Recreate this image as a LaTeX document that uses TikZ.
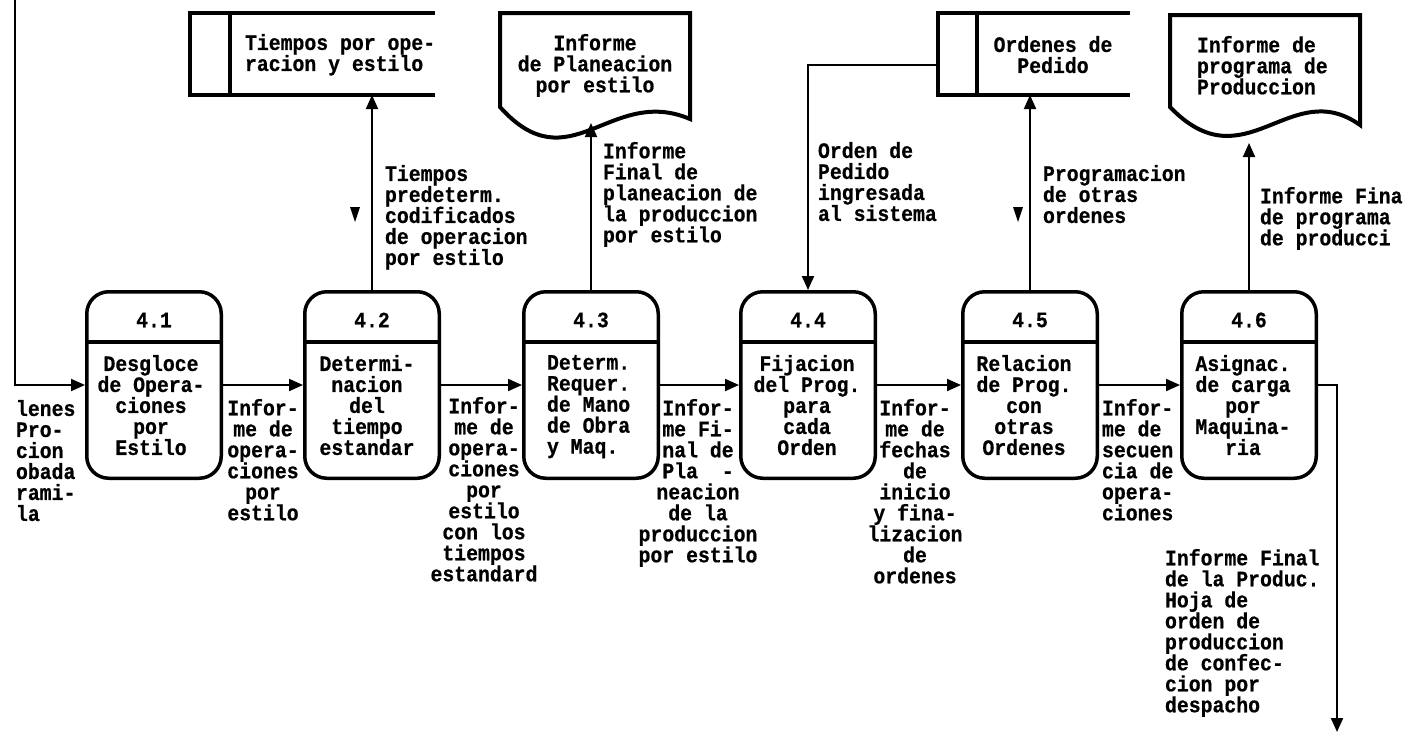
\documentclass[tikz,border=0pt]{standalone}
\usepackage{fontspec}
\newfontfamily\dfd{Liberation Mono Bold}[FakeStretch=0.9,FakeBold=0.6]
\usetikzlibrary{arrows.meta,calc}
\begin{document}
\begin{tikzpicture}[x=1pt,y=-1pt,
  txt/.style={font=\dfd\fontsize{22}{21}\selectfont, inner sep=0pt, outer sep=0pt},
  ctxt/.style={txt, anchor=north, align=center},
  ltxt/.style={txt, anchor=north west, align=left},
  proc/.style={draw, line width=3.5pt, rounded corners=22pt, minimum width=134.5pt, minimum height=186.5pt, inner sep=0pt},
  holder/.style={inner sep=0pt, outer sep=0pt},
  outline/.style={line width=4pt, line join=miter},
  flow/.style={line width=2pt, -{Triangle[length=14pt,width=12pt]}},
  marker/.style={fill=black}
]
\useasboundingbox (0,0) rectangle (1407,734);

% processes
\node[proc] (p1) at (154,385) {};
\node[proc] (p2) at (372,385) {};
\node[proc] (p3) at (591,385) {};
\node[proc] (p4) at (808,385) {};
\node[proc] (p5) at (1030,385) {};
\node[proc] (p6) at (1249,385) {};
\foreach \p in {p1,p2,p3,p4,p5,p6}{
  \draw[line width=3.5pt, shorten <=1.75pt, shorten >=1.75pt] (\p.west |- 0,342) -- (\p.east |- 0,342);
}
\node[txt] (n1) at (154,320) {4.1};
\node[txt] (n2) at (372,320) {4.2};
\node[txt] (n3) at (591,320) {4.3};
\node[txt] (n4) at (808,320) {4.4};
\node[txt] (n5) at (1030,320) {4.5};
\node[txt] (n6) at (1249,320) {4.6};

\node[ctxt] (t1) at (151,355) {Desgloce\\de Opera-\\ciones\\por\\Estilo};
\node[ctxt] (t2) at (367,355) {Determi-\\nacion\\del\\tiempo\\estandar};
\node[ltxt] (t3) at (547,355) {Determ.\\Requer.\\de Mano\\de Obra\\y Maq.};
\node[ctxt] (t4) at (807,355) {Fijacion\\del Prog.\\para\\cada\\Orden};
\node[ctxt] (t5) at (1024,355) {Relacion\\de Prog.\\con\\otras\\Ordenes};
\node[ctxt] (t6) at (1243,355) {Asignac.\\de carga\\por\\Maquina-\\ria};

% stores
\node[holder, minimum width=245pt, minimum height=82pt] (s1) at (312.5,54) {};
\draw[outline] (s1.north east) -- (s1.north west) -- (s1.south west) -- (s1.south east);
\draw[outline] ([xshift=40pt]s1.north west) -- ([xshift=40pt]s1.south west);
\node[ltxt] (st1) at (245,34) {Tiempos por ope-\\racion y estilo};

\node[holder, minimum width=192pt, minimum height=82pt] (s2) at (1034,54) {};
\draw[outline] (s2.north east) -- (s2.north west) -- (s2.south west) -- (s2.south east);
\draw[outline] ([xshift=39pt]s2.north west) -- ([xshift=39pt]s2.south west);
\node[ctxt] (st2) at (1053,36) {Ordenes de\\Pedido};

% documents
\node[holder, minimum width=190pt, minimum height=110pt] (d1) at (595,68) {};
\draw[outline] (500,13) -- (690,13) -- (690,119) .. controls (610,85) and (570,185) .. (500,107) -- cycle;
\node[ctxt] (dt1) at (595,34) {Informe\\de Planeacion\\por estilo};

\node[holder, minimum width=190pt, minimum height=128pt] (d2) at (1265,79) {};
\draw[outline] (1170,15) -- (1360,15) -- (1360,125) .. controls (1290,75) and (1245,185) .. (1170,107) -- cycle;
\node[ltxt] (dt2) at (1197,36) {Informe de\\programa de\\Produccion};

% connectors
\coordinate (in) at (15,0);
\draw[flow] (in) |- (p1.west);
\draw[flow] (p1.east) -- (p2.west);
\draw[flow] (p2.east) -- (p3.west);
\draw[flow] (p3.east) -- (p4.west);
\draw[flow] (p4.east) -- (p5.west);
\draw[flow] (p5.east) -- (p6.west);
\coordinate (out) at (1337,732);
\draw[flow] (p6.east) -| (out);
\draw[flow] (p2.north) -- (p2.north |- s1.south);
\draw[flow] (p3.north) -- (p3.north |- d1.south);
\draw[flow] ([yshift=-11pt]s2.west) -| (p4.north);
\draw[flow] (p5.north) -- (p5.north |- s2.south);
\draw[flow] (p6.north) -- (p6.north |- d2.south);

% markers
\fill[marker] (350,207) -- (360,207) -- (355,222) -- cycle;
\fill[marker] (1013,207) -- (1023,207) -- (1018,222) -- cycle;

% flow labels
\node[ltxt] (f0) at (16,400) {lenes\\Pro-\\cion\\obada\\rami-\\la};
\node[ctxt] (f1) at (263,399) {Infor-\\me de\\opera-\\ciones\\por\\estilo};
\node[ctxt] (f2) at (484,397) {Infor-\\me de\\opera-\\ciones\\por\\estilo\\con los\\tiempos\\estandard};
\node[ctxt] (f3) at (698,399) {Infor-\\me Fi-\\nal de\\Pla\ \ -\\neacion\\de la\\produccion\\por estilo};
\node[ctxt] (f4) at (915,399) {Infor-\\me de\\fechas\\de\\inicio\\y fina-\\lizacion\\de\\ordenes};
\node[ltxt] (f5) at (1102,399) {Infor-\\me de\\secuen\\cia de\\opera-\\ciones};

\node[ltxt] (v1) at (385,165) {Tiempos\\predeterm.\\codificados\\de operacion\\por estilo};
\node[ltxt] (v2) at (603,142) {Informe\\Final de\\planeacion de\\la produccion\\por estilo};
\node[ltxt] (v3) at (818,142) {Orden de\\Pedido\\ingresada\\al sistema};
\node[ltxt] (v4) at (1043,165) {Programacion\\de otras\\ordenes};
\node[ltxt] (v5) at (1260,187) {Informe Fina\\de programa\\de producci};
\node[ltxt] (v6) at (1165,549) {Informe Final\\de la Produc.\\Hoja de\\orden de\\produccion\\de confec-\\cion por\\despacho};
\end{tikzpicture}
\end{document}
